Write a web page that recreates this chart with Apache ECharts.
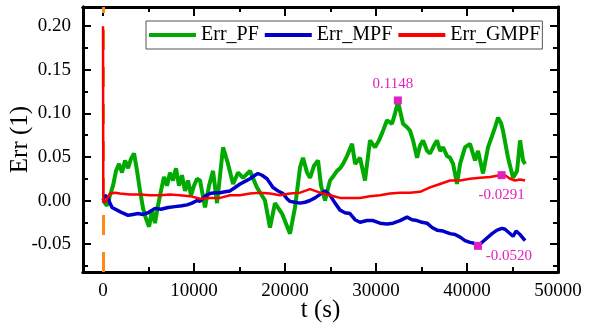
<!DOCTYPE html>
<html>
<head>
<meta charset="utf-8">
<script src="https://cdn.jsdelivr.net/npm/echarts@6/dist/echarts.min.js"></script>
<style>
  html, body { margin: 0; padding: 0; background: #fff; }
  #chart-1 { width: 596px; height: 333px; }
</style>
</head>
<body>
<div id="chart-1"></div>
<script>
/** data **/
var tPF = [0, 440, 770, 1100, 1430, 1760, 2090, 2420, 2750, 3080, 3410, 3740, 4070, 4400, 4730, 5060, 5390, 5710, 6040, 6370, 6700, 7030, 7360, 7690, 8020, 8350, 8680, 9010, 9340, 9670, 10000, 10330, 10660, 11210, 11650, 12090, 12530, 12860, 13190, 13740, 14290, 14840, 15390, 16150, 16920, 17800, 18350, 18900, 19670, 20550, 21100, 21650, 21980, 22420, 22750, 23190, 23630, 23960, 24400, 24730, 24950, 25390, 25720, 26050, 26380, 26810, 27370, 27700, 28240, 28790, 29340, 29890, 30330, 30660, 31210, 31760, 32090, 32420, 32970, 33410, 33740, 34070, 34510, 34840, 35170, 35610, 35940, 36370, 36700, 37040, 37370, 37810, 38140, 38470, 38900, 39240, 39780, 40330, 40880, 41210, 41760, 42310, 42750, 43080, 43410, 43740, 43960, 44510, 45060, 45500, 45830, 46160, 46380];
var errPF = [0.000, -0.006, 0.006, 0.017, 0.034, 0.042, 0.032, 0.046, 0.037, 0.048, 0.054, 0.034, 0.011, -0.009, -0.021, -0.030, -0.011, -0.026, -0.006, 0.011, 0.027, 0.017, 0.032, 0.023, 0.037, 0.017, 0.029, 0.011, 0.023, 0.006, 0.017, 0.025, 0.023, -0.008, 0.017, 0.034, -0.003, 0.029, 0.061, 0.042, 0.019, 0.032, 0.026, 0.034, 0.015, 0.000, -0.031, -0.003, -0.015, -0.038, -0.008, 0.038, 0.049, 0.032, 0.026, 0.040, 0.046, 0.017, 0.000, 0.014, 0.023, 0.029, 0.034, 0.037, 0.042, 0.051, 0.065, 0.042, 0.049, 0.023, 0.069, 0.061, 0.069, 0.077, 0.092, 0.088, 0.100, 0.113, 0.088, 0.084, 0.080, 0.069, 0.049, 0.063, 0.069, 0.057, 0.054, 0.063, 0.069, 0.057, 0.061, 0.051, 0.049, 0.042, 0.019, 0.042, 0.061, 0.065, 0.046, 0.057, 0.031, 0.061, 0.074, 0.084, 0.095, 0.089, 0.080, 0.049, 0.026, 0.034, 0.069, 0.046, 0.042];

var tMPF = [0, 220, 550, 770, 990, 1540, 2090, 2750, 3300, 3850, 4400, 4950, 5710, 6370, 7140, 7910, 8680, 9230, 9780, 10330, 10660, 11210, 11760, 12310, 12860, 13410, 13960, 14510, 15060, 15610, 16150, 16700, 17030, 17470, 18020, 18680, 19230, 19780, 20220, 20550, 21100, 21650, 22200, 22750, 23300, 23850, 24400, 24950, 25500, 26050, 26590, 27140, 27690, 28240, 29010, 29670, 30440, 31210, 31870, 32640, 33410, 33960, 34510, 35060, 35610, 36160, 36710, 37370, 38140, 38690, 39240, 39780, 40330, 40770, 41210, 41760, 42200, 42750, 43300, 43850, 44180, 44620, 45060, 45390, 45830, 46380];
var errMPF = [0.000, 0.006, 0.003, -0.003, -0.008, -0.011, -0.014, -0.017, -0.016, -0.015, -0.016, -0.014, -0.009, -0.010, -0.008, -0.007, -0.006, -0.005, -0.003, 0.000, -0.001, 0.005, 0.008, 0.009, 0.009, 0.010, 0.011, 0.015, 0.019, 0.022, 0.025, 0.029, 0.031, 0.029, 0.025, 0.015, 0.011, 0.008, 0.002, -0.001, -0.002, -0.003, -0.002, 0.000, 0.003, 0.007, 0.011, 0.006, -0.003, -0.011, -0.014, -0.015, -0.022, -0.025, -0.023, -0.023, -0.026, -0.027, -0.026, -0.023, -0.019, -0.022, -0.023, -0.025, -0.026, -0.031, -0.034, -0.035, -0.038, -0.039, -0.042, -0.046, -0.048, -0.049, -0.052, -0.047, -0.043, -0.038, -0.034, -0.032, -0.033, -0.037, -0.041, -0.035, -0.039, -0.046];

var tGMPF = [0, 30, 220, 440, 770, 1320, 1870, 2970, 4070, 5170, 6260, 7360, 8460, 9560, 10660, 11760, 12860, 13960, 15060, 16150, 17250, 18350, 19450, 20550, 21650, 22750, 23850, 24950, 26050, 27140, 28240, 29340, 30440, 31540, 32640, 33740, 34840, 35940, 37040, 38140, 39240, 40330, 41430, 42530, 43630, 44180, 44730, 45280, 45830, 46380];
var errGMPF = [0.200, 0.000, -0.003, 0.002, 0.008, 0.009, 0.008, 0.007, 0.007, 0.006, 0.006, 0.007, 0.006, 0.005, 0.002, 0.003, 0.003, 0.006, 0.006, 0.008, 0.009, 0.008, 0.006, 0.008, 0.009, 0.013, 0.009, 0.006, 0.003, 0.003, 0.003, 0.005, 0.006, 0.008, 0.009, 0.009, 0.010, 0.015, 0.019, 0.023, 0.023, 0.025, 0.026, 0.027, 0.029, 0.029, 0.025, 0.023, 0.024, 0.023];

// annotated points: [t, value, label]
var notePF = [32400, 0.1148, "0.1148"];
var noteGMPF = [43800, 0.0291, "-0.0291"];
var noteMPF = [41200, -0.0520, "-0.0520"];

var xMajor = [0, 10000, 20000, 30000, 40000, 50000];
var xMinor = [5000, 15000, 25000, 35000, 45000];
var yMajor = [-0.05, 0, 0.05, 0.1, 0.15, 0.2];
var yMinor = [-0.075, -0.025, 0.025, 0.075, 0.125, 0.175];

function pairs(t, v) {
  return t.map(function (x, i) { return [x, v[i]]; });
}

/** Chart 1 **/
var dom = document.getElementById("chart-1");
var Chart1 = echarts.init(dom, null, { renderer: "canvas" });

var FONT = "Liberation Serif";
var MAG = "#e020c0";

function axisX(pos, ticks, len, labels, extra) {
  var ax = {
    type: "value",
    position: pos,
    min: -2200,
    max: 50000,
    splitLine: { show: false },
    axisLine: { show: true, onZero: false, lineStyle: { color: "#000", width: 3 } },
    axisTick: { show: true, inside: true, length: len, customValues: ticks, lineStyle: { color: "#000", width: 2 } },
    axisLabel: labels
      ? {
          show: true, customValues: ticks, margin: 10, color: "#000", fontFamily: FONT, fontSize: 19,
          formatter: function (v) { return String(v); },
        }
      : { show: false },
  };
  return Object.assign(ax, extra || {});
}

function axisY(pos, ticks, len, labels, extra) {
  var ax = {
    type: "value",
    position: pos,
    min: -0.082,
    max: 0.222,
    splitLine: { show: false },
    axisLine: { show: true, onZero: false, lineStyle: { color: "#000", width: 3 } },
    axisTick: { show: true, inside: true, length: len, customValues: ticks, lineStyle: { color: "#000", width: 2 } },
    axisLabel: labels
      ? {
          show: true, customValues: ticks, margin: 12, color: "#000", fontFamily: FONT, fontSize: 19,
          formatter: function (v) { return v.toFixed(2); },
        }
      : { show: false },
  };
  return Object.assign(ax, extra || {});
}

function note(p, pos, offset) {
  return {
    coord: [p[0], p[1]],
    symbol: "rect",
    symbolSize: 8,
    itemStyle: { color: MAG },
    label: {
      show: true, formatter: p[2], position: pos, offset: offset,
      color: MAG, fontFamily: FONT, fontSize: 15,
    },
  };
}

var option = {
  animation: false,
  backgroundColor: "#fff",
  grid: { left: 83, top: 7, right: 38, bottom: 61, outerBoundsMode: "none" },
  legend: {
    left: 146,
    top: 21,
    padding: [4, 2, 4, 3],
    itemGap: 6,
    itemWidth: 47,
    itemHeight: 4,
    icon: "rect",
    borderColor: "#555",
    borderWidth: 1,
    textStyle: { color: "#000", fontFamily: FONT, fontSize: 20 },
    data: ["Err_PF", "Err_MPF", "Err_GMPF"],
  },
  xAxis: [
    axisX("bottom", xMajor, 9, true, {
      name: "t (s)", nameLocation: "middle", nameGap: 26, nameMoveOverlap: false,
      nameTextStyle: { color: "#000", fontFamily: FONT, fontSize: 25, verticalAlign: "top" },
    }),
    axisX("bottom", xMinor, 5, false),
    axisX("top", xMajor, 9, false),
    axisX("top", xMinor, 5, false),
  ],
  yAxis: [
    axisY("left", yMajor, 8, true, {
      name: "Err (1)", nameLocation: "middle", nameGap: 50, nameMoveOverlap: false,
      nameTextStyle: { color: "#000", fontFamily: FONT, fontSize: 25 },
    }),
    axisY("left", yMinor, 5, false),
    axisY("right", yMajor, 8, false),
    axisY("right", yMinor, 5, false),
  ],
  series: [
    {
      name: "Err_PF",
      type: "line",
      color: "#00aa00",
      symbol: "none",
      z: 2,
      lineStyle: { width: 4, color: "#00aa00" },
      data: pairs(tPF, errPF),
      markLine: {
        silent: true,
        symbol: "none",
        label: { show: false },
        lineStyle: { color: "#ff8a1a", width: 3, type: [20, 17] },
        data: [{ xAxis: 0 }],
        z: 1,
      },
      markPoint: { data: [note(notePF, "top", [-5, 0])] },
    },
    {
      name: "Err_MPF",
      type: "line",
      color: "#0000c8",
      symbol: "none",
      z: 3,
      lineStyle: { width: 3.5, color: "#0000c8" },
      data: pairs(tMPF, errMPF),
      markPoint: { data: [note(noteMPF, "bottom", [31, -6])] },
    },
    {
      name: "Err_GMPF",
      type: "line",
      color: "#ff0000",
      symbol: "none",
      z: 4,
      lineStyle: { width: 2.5, color: "#ff0000" },
      data: pairs(tGMPF, errGMPF),
      markPoint: { data: [note(noteGMPF, "bottom", [0, 3])] },
    },
  ],
};

if (option && typeof option === "object") {
  Chart1.setOption(option);
}

window.addEventListener("resize", Chart1.resize);
/** End Chart 1 **/
</script>
</body>
</html>
